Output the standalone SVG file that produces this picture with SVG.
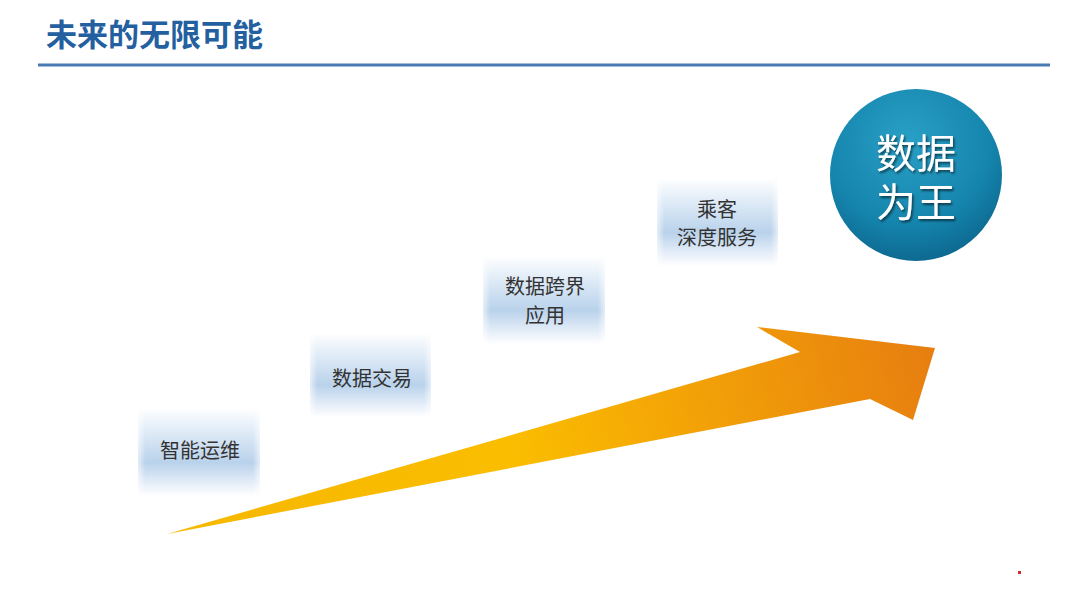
<svg xmlns="http://www.w3.org/2000/svg" width="1080" height="608" viewBox="0 0 1080 608">
<defs>
<linearGradient id="boxg" x1="0" y1="0" x2="0" y2="1">
<stop offset="0" stop-color="#ffffff"/>
<stop offset="0.2" stop-color="#e7f0f9"/>
<stop offset="0.62" stop-color="#b9d2eb"/>
<stop offset="0.85" stop-color="#e4edf8"/>
<stop offset="1" stop-color="#ffffff"/>
</linearGradient>
<linearGradient id="edge" x1="0" y1="0" x2="1" y2="0">
<stop offset="0" stop-color="#ffffff" stop-opacity="0.6"/>
<stop offset="0.06" stop-color="#ffffff" stop-opacity="0"/>
<stop offset="0.94" stop-color="#ffffff" stop-opacity="0"/>
<stop offset="1" stop-color="#ffffff" stop-opacity="0.6"/>
</linearGradient>
<linearGradient id="arrowg" gradientUnits="userSpaceOnUse" x1="167" y1="534" x2="935" y2="348">
<stop offset="0" stop-color="#f6b800"/>
<stop offset="0.45" stop-color="#fbbd00"/>
<stop offset="1" stop-color="#e77e10"/>
</linearGradient>
<radialGradient id="circg" cx="0.45" cy="0.3" r="0.8">
<stop offset="0" stop-color="#2aa0c6"/>
<stop offset="0.6" stop-color="#1585ad"/>
<stop offset="1" stop-color="#0a5e85"/>
</radialGradient>
<filter id="tshadow" x="-20%" y="-20%" width="140%" height="140%">
<feDropShadow dx="1.5" dy="2" stdDeviation="1.2" flood-color="#000000" flood-opacity="0.55"/>
</filter>
</defs>
<style>
.box{fill:url(#boxg);}
.boxedge{fill:url(#edge);}
.lbl{font-family:"Liberation Sans","Noto Sans CJK SC",sans-serif;font-size:20px;fill:#333333;text-anchor:middle;}
.big{font-family:"Liberation Sans","Noto Sans CJK SC",sans-serif;font-size:40px;fill:#ffffff;text-anchor:middle;}
.title{font-family:"Liberation Sans","Noto Sans CJK SC",sans-serif;font-size:31px;font-weight:bold;fill:#24609f;}
</style>
<rect width="1080" height="608" fill="#ffffff"/>
<g id="header">
<text class="title" x="46" y="46">未来的无限可能</text>
<line x1="38" y1="65" x2="1050" y2="65" stroke="#4a7ab3" stroke-width="3"/>
</g>
<g id="connectors">
<path d="M167,534 L800,352 L757,327 L935,348 L913,420 L870,399 Z" fill="url(#arrowg)"/>
</g>
<g id="node-1">
<rect class="box" x="138" y="408" width="122" height="88"/>
<rect class="boxedge" x="138" y="408" width="122" height="88"/>
<text class="lbl" x="200" y="458">智能运维</text>
</g>
<g id="node-2">
<rect class="box" x="310" y="333" width="121" height="84"/>
<rect class="boxedge" x="310" y="333" width="121" height="84"/>
<text class="lbl" x="372" y="386">数据交易</text>
</g>
<g id="node-3">
<rect class="box" x="483" y="256" width="122" height="88"/>
<rect class="boxedge" x="483" y="256" width="122" height="88"/>
<text class="lbl" x="545" y="294">数据跨界</text>
<text class="lbl" x="545" y="323">应用</text>
</g>
<g id="node-4">
<rect class="box" x="657" y="178" width="121" height="88"/>
<rect class="boxedge" x="657" y="178" width="121" height="88"/>
<text class="lbl" x="717" y="217">乘客</text>
<text class="lbl" x="717" y="245">深度服务</text>
</g>
<g id="node-5">
<circle cx="916" cy="175" r="86" fill="url(#circg)"/>
<text class="big" x="916" y="168" filter="url(#tshadow)">数据</text>
<text class="big" x="916" y="217" filter="url(#tshadow)">为王</text>
</g>
<rect x="1018" y="571" width="3" height="3" fill="#d9262a"/>
</svg>
